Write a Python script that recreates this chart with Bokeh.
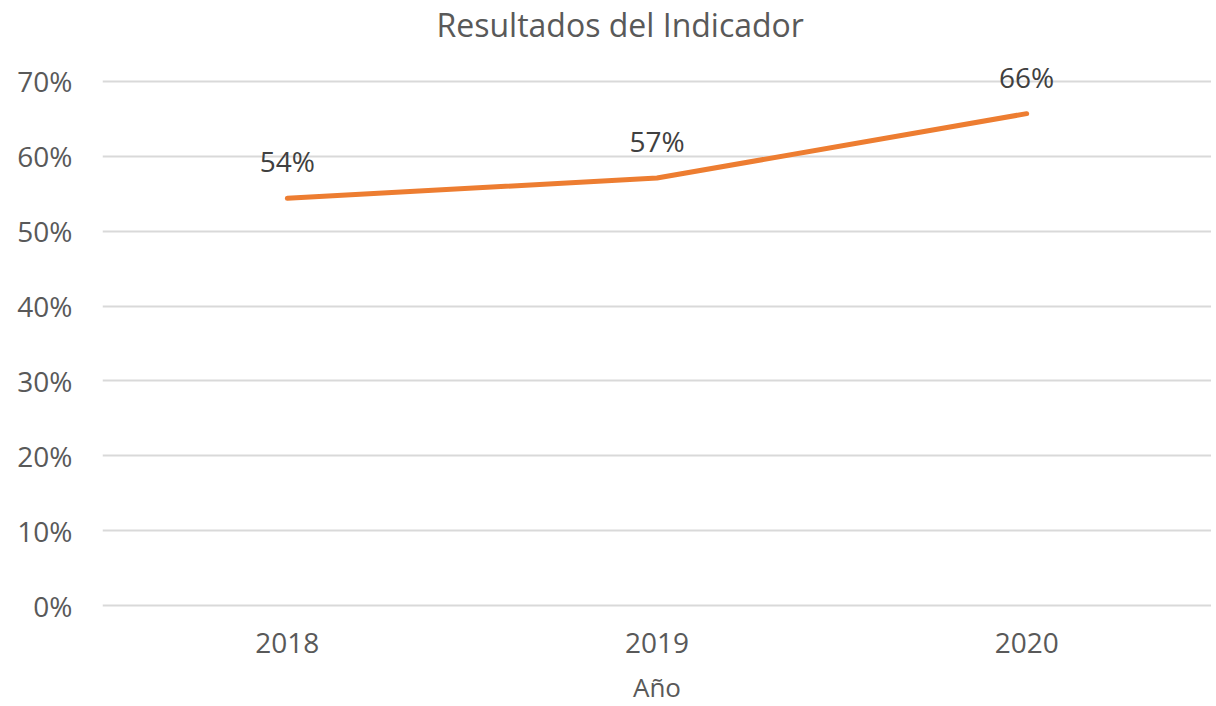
from bokeh.plotting import figure
from bokeh.models import FactorRange, Range1d, FixedTicker, NumeralTickFormatter, ColumnDataSource, LabelSet
from bokeh.core.properties import value
from bokeh.embed import file_html
from bokeh.resources import INLINE

# ---- data ----
years = ["2018", "2019", "2020"]
values = [0.544, 0.571, 0.657]
y_ticks = [0.0, 0.1, 0.2, 0.3, 0.4, 0.5, 0.6, 0.7]
title_text = "Resultados del Indicador"
x_title = "Año"

FONT = "Open Sans"
FS = "28px"

labels = [f"{round(v * 100)}%" for v in values]
src = ColumnDataSource(dict(x=years, y=values, label=labels))

p = figure(
    frame_width=1109, frame_height=561,
    x_range=FactorRange(factors=years, range_padding=0),
    y_range=Range1d(-0.00267, 0.7467),
    output_backend="svg", toolbar_location=None,
    min_border_left=102, min_border_right=0, min_border_top=0, min_border_bottom=80,
)
p.outline_line_color = None
p.background_fill_color = "white"
p.border_fill_color = "white"

p.title.text = title_text
p.title.align = "left"
p.title.offset = 334
p.title.text_font = FONT
p.title.text_font_size = "32px"
p.title.text_font_style = "normal"
p.title.text_color = "#595959"
p.title.standoff = 1

p.line(x="x", y="y", source=src, line_color="#ED7D31", line_width=5, line_cap="round", line_join="round")

lbl = LabelSet(x="x", y="y", text="label", source=src, y_offset=26,
               text_align="center", text_baseline="alphabetic",
               text_font=value(FONT), text_font_size=value(FS), text_color="#404040")
p.add_layout(lbl)

p.yaxis.ticker = FixedTicker(ticks=y_ticks)
p.yaxis.formatter = NumeralTickFormatter(format="0%")
p.yaxis.axis_line_color = None
p.yaxis.major_tick_line_color = None
p.yaxis.minor_tick_line_color = None
p.yaxis.major_label_standoff = 24
p.yaxis.major_label_text_font = FONT
p.yaxis.major_label_text_font_size = FS
p.yaxis.major_label_text_color = "#595959"

p.xaxis.axis_line_color = None
p.xaxis.major_tick_line_color = None
p.xaxis.minor_tick_line_color = None
p.xaxis.major_label_standoff = 19
p.xaxis.major_label_text_font = FONT
p.xaxis.major_label_text_font_size = FS
p.xaxis.major_label_text_color = "#595959"
p.xaxis.axis_label = x_title
p.xaxis.axis_label_text_font = FONT
p.xaxis.axis_label_text_font_size = "26px"
p.xaxis.axis_label_text_font_style = "normal"
p.xaxis.axis_label_text_color = "#595959"
p.xaxis.axis_label_standoff = 13

p.xgrid.grid_line_color = None
p.ygrid.grid_line_color = "#D9D9D9"
p.ygrid.grid_line_width = 2

open("out.html", "w").write(file_html(p, INLINE))
